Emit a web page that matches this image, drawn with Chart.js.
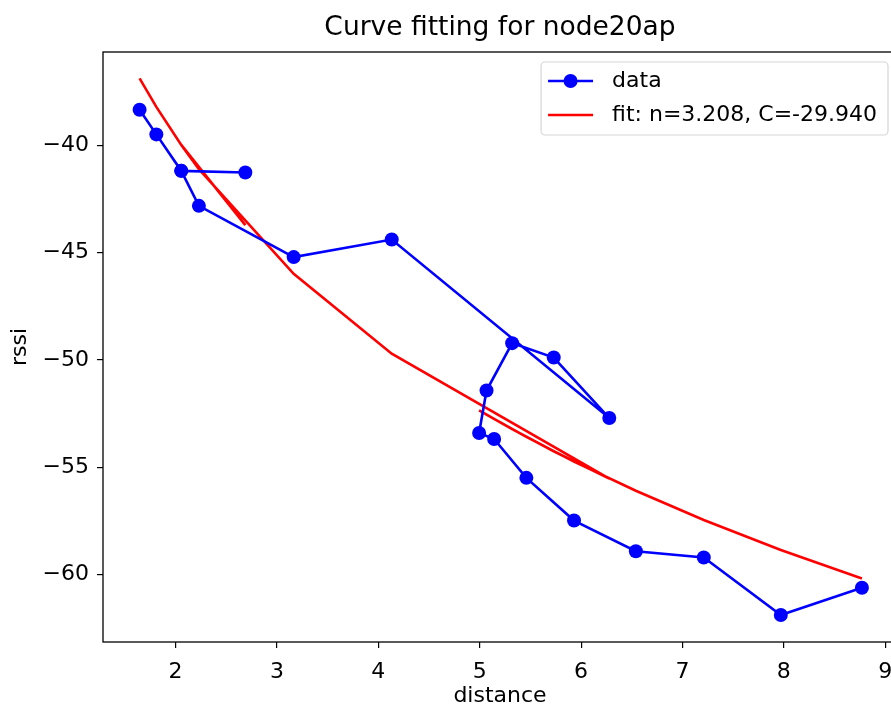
<!DOCTYPE html>
<html>
<head>
<meta charset="utf-8">
<script src="https://cdn.jsdelivr.net/npm/chart.js@4/dist/chart.umd.min.js"></script>
<style>
  html, body { margin: 0; padding: 0; background: #fff; overflow: hidden; }
  #wrap { width: 891px; height: 707px; overflow: hidden; position: relative; }
  canvas { display: block; }
</style>
</head>
<body>
<div id="wrap"><canvas id="c" width="920" height="707"></canvas></div>
<script>
// ---- data ----
const distance = [1.645, 1.81, 2.056, 2.688, 2.056, 2.23, 3.165, 4.132, 6.278, 5.73, 5.32, 5.067, 4.994, 5.142, 5.46, 5.93, 6.54, 7.21, 7.97, 8.77];
const rssi     = [-38.34, -39.49, -41.19, -41.27, -41.19, -42.82, -45.21, -44.39, -52.71, -49.89, -49.22, -51.43, -53.41, -53.69, -55.50, -57.49, -58.92, -59.21, -61.89, -60.62];
const fitRssi  = [-36.88, -38.21, -39.98, -43.72, -39.98, -41.11, -45.99, -49.71, -55.53, -54.26, -53.23, -52.55, -52.35, -52.75, -53.59, -54.74, -56.10, -57.46, -58.86, -60.19];
const xTicks = [2, 3, 4, 5, 6, 7, 8, 9];
const yTicks = [-60, -55, -50, -45, -40];
const seriesLabels = ['data', 'fit: n=3.208, C=-29.940'];
const chartTitle = 'Curve fitting for node20ap';
const xLabel = 'distance';
const yLabel = 'rssi';

const FONT = "'DejaVu Sans', sans-serif";
const minus = v => String(v).replace('-', '\u2212');

const framePlugin = {
  id: 'frame',
  afterDraw(chart) {
    const { ctx, chartArea: a } = chart;
    ctx.save();
    ctx.strokeStyle = '#000';
    ctx.lineWidth = 1.3;
    ctx.strokeRect(a.left, a.top, a.right - a.left, a.bottom - a.top);
    ctx.restore();
  }
};

const legendPlugin = {
  id: 'mplLegend',
  afterDraw(chart) {
    const { ctx, chartArea: a } = chart;
    const ds = chart.data.datasets;
    ctx.save();
    ctx.font = '22px ' + FONT;
    let tw = 0;
    ds.forEach(d => { tw = Math.max(tw, ctx.measureText(d.label).width); });
    const right = a.right - 9;
    const textX = right - 11 - tw;
    const left = textX - 71;
    const top = a.top + 10, bottom = top + 73;
    ctx.beginPath();
    const r = 4;
    ctx.moveTo(left + r, top);
    ctx.arcTo(right, top, right, bottom, r);
    ctx.arcTo(right, bottom, left, bottom, r);
    ctx.arcTo(left, bottom, left, top, r);
    ctx.arcTo(left, top, right, top, r);
    ctx.closePath();
    ctx.fillStyle = 'rgba(255,255,255,0.85)';
    ctx.fill();
    ctx.strokeStyle = '#d6d6d6';
    ctx.lineWidth = 1.2;
    ctx.stroke();
    const rows = [top + 19, top + 53];
    ds.forEach((d, i) => {
      const y = rows[i];
      ctx.strokeStyle = d.borderColor;
      ctx.lineWidth = d.borderWidth;
      ctx.beginPath();
      ctx.moveTo(left + 7, y);
      ctx.lineTo(left + 52, y);
      ctx.stroke();
      if (d.pointRadius > 0) {
        ctx.fillStyle = d.pointBackgroundColor;
        ctx.beginPath();
        ctx.arc(left + 29.5, y, d.pointRadius, 0, Math.PI * 2);
        ctx.fill();
      }
      ctx.fillStyle = '#000';
      ctx.textBaseline = 'middle';
      ctx.textAlign = 'left';
      ctx.fillText(d.label, textX, y);
    });
    ctx.restore();
  }
};

new Chart(document.getElementById('c'), {
  type: 'scatter',
  data: {
    datasets: [
      {
        label: seriesLabels[0],
        data: distance.map((x, i) => ({ x, y: rssi[i] })),
        showLine: true,
        borderColor: '#0000ff',
        backgroundColor: '#0000ff',
        pointBackgroundColor: '#0000ff',
        pointBorderColor: '#0000ff',
        borderWidth: 2.6,
        pointRadius: 7,
        pointBorderWidth: 0,
        tension: 0
      },
      {
        label: seriesLabels[1],
        data: distance.map((x, i) => ({ x, y: fitRssi[i] })),
        showLine: true,
        borderColor: '#ff0000',
        backgroundColor: '#ff0000',
        borderWidth: 2.6,
        pointRadius: 0,
        tension: 0
      }
    ]
  },
  options: {
    responsive: false,
    animation: false,
    devicePixelRatio: 1,
    layout: { padding: { left: 0, right: 23, top: 0, bottom: 0 } },
    plugins: {
      legend: { display: false },
      tooltip: { enabled: false },
      title: {
        display: true,
        fullSize: false,
        text: chartTitle,
        color: '#000',
        font: { family: FONT, size: 26.5, weight: 'normal', lineHeight: 1.2 },
        padding: { top: 12, bottom: 8.2 }
      }
    },
    scales: {
      x: {
        type: 'linear',
        min: 1.284,
        max: 9.116,
        afterBuildTicks: s => { s.ticks = xTicks.map(v => ({ value: v })); },
        afterFit: s => { s.height = 65; },
        grid: { drawOnChartArea: false, drawTicks: true, tickLength: 6, color: '#000', lineWidth: 1.2 },
        border: { display: false },
        ticks: { color: '#000', font: { family: FONT, size: 22 }, padding: 11, maxRotation: 0, callback: v => minus(v) },
        title: { display: true, text: xLabel, color: '#000', font: { family: FONT, size: 22, lineHeight: 1 }, padding: { top: 0, bottom: 0 } }
      },
      y: {
        type: 'linear',
        min: -63.15,
        max: -35.65,
        afterBuildTicks: s => { s.ticks = yTicks.map(v => ({ value: v })); },
        afterFit: s => { s.width = 103; },
        grid: { drawOnChartArea: false, drawTicks: true, tickLength: 6, color: '#000', lineWidth: 1.2 },
        border: { display: false },
        ticks: { color: '#000', font: { family: FONT, size: 22 }, padding: 8, callback: v => minus(v) },
        title: { display: true, text: yLabel, color: '#000', font: { family: FONT, size: 22, lineHeight: 1.2 }, padding: { top: 7, bottom: 0 } }
      }
    }
  },
  plugins: [framePlugin, legendPlugin]
});
</script>
</body>
</html>
